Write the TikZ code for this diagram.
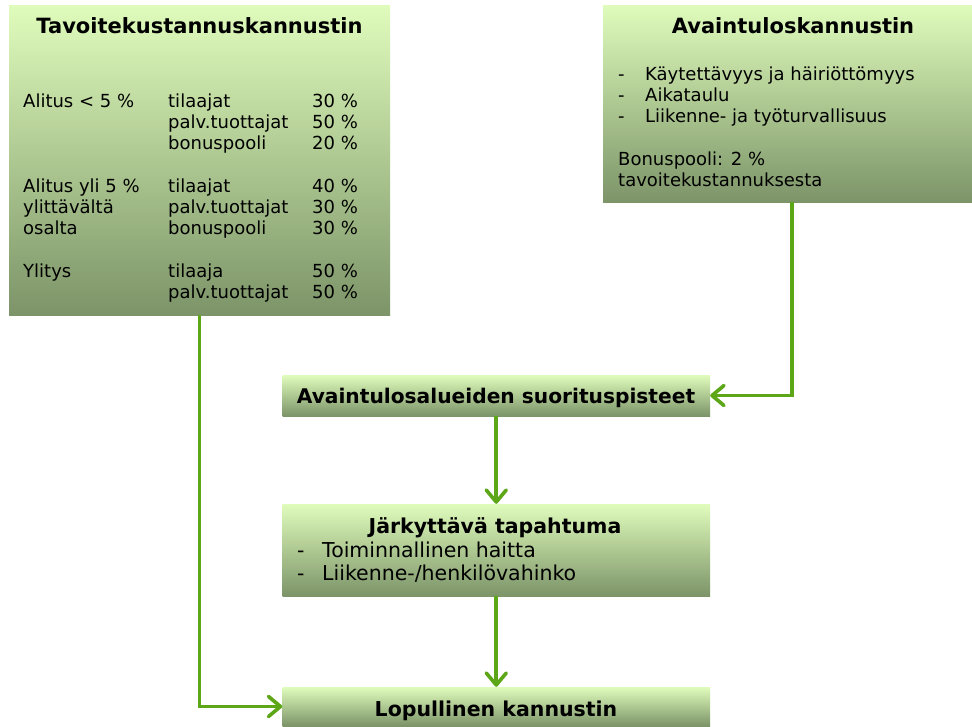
\documentclass[tikz,border=0pt]{standalone}
\usepackage{fontspec}
\setmainfont{DejaVu Sans}
\usetikzlibrary{arrows.meta}
\definecolor{boxtop}{RGB}{224,252,188}
\definecolor{boxbottom}{RGB}{124,148,104}
\definecolor{flowgreen}{RGB}{92,166,24}
\tikzset{>={Straight Barb[length=12pt,width=20pt,round]}}
\tikzset{
  kannustin/.style={rectangle, inner sep=0pt, top color=boxtop, bottom color=boxbottom},
  otsikko/.style={inner sep=0pt, font=\fontsize{20.5}{24}\selectfont\bfseries},
  teksti/.style={inner sep=0pt, font=\fontsize{18}{21.3}\selectfont},
  flow/.style={->, draw=flowgreen, line width=3.6pt}
}

\begin{document}
\begin{tikzpicture}[x=1pt, y=-1pt]
  \useasboundingbox (0,0) rectangle (972,726);
  % boxes
  \node[kannustin, minimum width=381, minimum height=310] (tavoite) at (199.5,160) {};
  \node[kannustin, minimum width=369, minimum height=197] (avain) at (787.5,103.5) {};
  \node[kannustin, minimum width=427.5, minimum height=41] (suoritus) at (496.25,395.5) {};
  \node[kannustin, minimum width=427.5, minimum height=92] (jarkyttava) at (496.25,550) {};
  \node[kannustin, minimum width=427.5, minimum height=39] (lopullinen) at (496.25,706.5) {};
  % texts
  \node[otsikko, anchor=base, font=\fontsize{21}{24}\selectfont\bfseries] (tavoiteotsikko) at (199.5,33) {Tavoitekustannuskannustin};
  \node[teksti, anchor=base west] (jako) at (23,107) {%
    \begin{tabular}[t]{@{}p{145pt}@{}p{144pt}@{}l@{}}
      Alitus < 5 \% & tilaajat & 30 \%\\
      & palv.tuottajat & 50 \%\\
      & bonuspooli & 20 \%\\
      & & \\
      Alitus yli 5 \% & tilaajat & 40 \%\\
      ylittävältä & palv.tuottajat & 30 \%\\
      osalta & bonuspooli & 30 \%\\
      & & \\
      Ylitys & tilaaja & 50 \%\\
      & palv.tuottajat & 50 \%
    \end{tabular}};
  \node[otsikko, anchor=base, font=\fontsize{21}{24}\selectfont\bfseries] (avainotsikko) at (793,33) {Avaintuloskannustin};
  \node[teksti, anchor=base west] (avainlista) at (618,80) {%
    \begin{tabular}[t]{@{}p{27pt}@{}l@{}}
      - & Käytettävyys ja häiriöttömyys\\
      - & Aikataulu\\
      - & Liikenne- ja työturvallisuus\\
      & \\
      \multicolumn{2}{@{}l@{}}{Bonuspooli: 2 \%}\\
      \multicolumn{2}{@{}l@{}}{tavoitekustannuksesta}
    \end{tabular}};
  \node[otsikko, anchor=base, font=\fontsize{20.2}{24}\selectfont\bfseries] (suoritusteksti) at (496,403) {Avaintulosalueiden suorituspisteet};
  \node[otsikko, anchor=base] (jarkyttavaotsikko) at (495,533) {Järkyttävä tapahtuma};
  \node[teksti, anchor=base west, font=\fontsize{20.5}{23.5}\selectfont] (jarkyttavalista) at (297,557) {%
    \begin{tabular}[t]{@{}p{25pt}@{}l@{}}
      - & Toiminnallinen haitta\\
      - & Liikenne-/henkilövahinko
    \end{tabular}};
  \node[otsikko, anchor=base] (lopullinenteksti) at (496,716) {Lopullinen kannustin};
  % arrows
  \draw[flow] (tavoite.south) |- (lopullinen.west);
  \draw[flow] ([xshift=4.5pt]avain.south) |- (suoritus.east);
  \draw[flow] (suoritus.south) -- (jarkyttava.north);
  \draw[flow] (jarkyttava.south) -- (lopullinen.north);
\end{tikzpicture}
\end{document}
